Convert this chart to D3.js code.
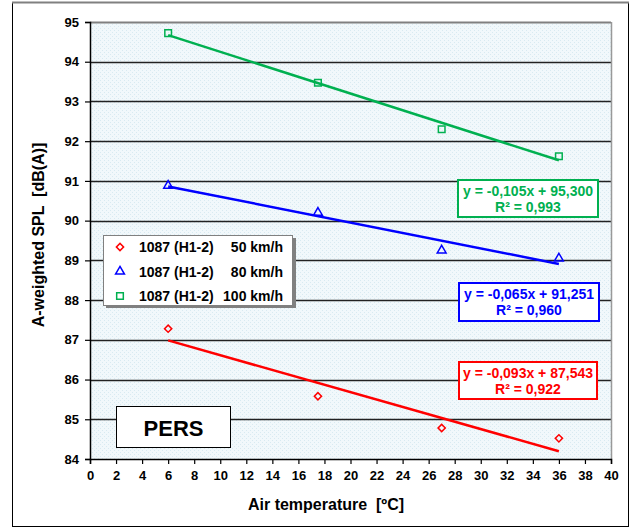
<!DOCTYPE html>
<html><head><meta charset="utf-8">
<script src="https://cdn.jsdelivr.net/npm/d3@7"></script>
<style>body{margin:0;background:#fff}svg{display:block;font-family:Arial,"Liberation Sans",sans-serif;font-weight:bold}</style>
</head><body><svg id="c" width="632" height="529"></svg>
<script>
const temps = [6, 17.5, 27, 36];
const spl50 = [87.28, 85.58, 84.78, 84.52];
const spl80 = [90.88, 90.20, 89.25, 89.05];
const spl100 = [94.72, 93.47, 92.30, 91.62];
const seriesNames = ["1087 (H1-2)", "1087 (H1-2)", "1087 (H1-2)"];
const speeds = ["50 km/h", "80 km/h", "100 km/h"];
const slopes = [-0.093, -0.065, -0.105];
const intercepts = [87.543, 91.251, 95.300];
const eqLabels = ["y = -0,093x + 87,543", "y = -0,065x + 91,251", "y = -0,105x + 95,300"];
const r2Labels = ["R² = 0,922", "R² = 0,960", "R² = 0,993"];
const xTicks = d3.range(0, 41, 2);
const yTicks = d3.range(84, 96, 1);

const colors = ["#ff0000", "#0000ff", "#00b050"];
const svg = d3.select("#c");
const L = 90, R = 611, T = 22, B = 459;
const x = d3.scaleLinear().domain([0, 40]).range([L, R]);
const y = d3.scaleLinear().domain([84, 95]).range([B, T]);

// outer frame
svg.append("rect").attr("x", 12.5).attr("y", 2.5).attr("width", 616).attr("height", 524)
  .attr("fill", "#fff").attr("stroke", "#000").attr("stroke-width", 1);
svg.append("line").attr("x1", 12).attr("x2", 629).attr("y1", 2.5).attr("y2", 2.5).attr("stroke", "#808080").attr("stroke-width", 2);

// plot bg pattern
const defs = svg.append("defs");
const pat = defs.append("pattern").attr("id", "dots").attr("width", 4).attr("height", 4).attr("patternUnits", "userSpaceOnUse");
pat.append("rect").attr("width", 4).attr("height", 4).attr("fill", "#f1f8fb");
pat.append("rect").attr("width", 1).attr("height", 1).attr("x", 0).attr("y", 0).attr("fill", "#d8eaf1");
pat.append("rect").attr("width", 1).attr("height", 1).attr("x", 2).attr("y", 2).attr("fill", "#d8eaf1");
svg.append("rect").attr("x", L).attr("y", T).attr("width", R - L).attr("height", B - T).attr("fill", "url(#dots)");

// gridlines
svg.append("g").selectAll("line").data(yTicks.filter(d => d > 84)).join("line")
  .attr("x1", L).attr("x2", R).attr("y1", d => Math.round(y(d)) + 0.5).attr("y2", d => Math.round(y(d)) + 0.5)
  .attr("stroke", (d) => d === 95 ? "#808080" : "#222").attr("stroke-width", d => d === 95 ? 2 : 1.3);
svg.append("line").attr("x1", R + 0.5).attr("x2", R + 0.5).attr("y1", T).attr("y2", B).attr("stroke", "#999").attr("stroke-width", 1.5);

// axes
const xAxis = svg.append("g").attr("transform", `translate(0,${B})`)
  .call(d3.axisBottom(x).tickValues(xTicks).tickSize(5).tickPadding(4).tickFormat(d3.format("d")));
const yAxis = svg.append("g").attr("transform", `translate(${L},0)`)
  .call(d3.axisLeft(y).tickValues(yTicks).tickSize(5).tickPadding(6).tickFormat(d3.format("d")));
[xAxis, yAxis].forEach(a => {
  a.select(".domain").attr("stroke", "#000").attr("stroke-width", 1.5);
  a.selectAll(".tick line").attr("stroke", "#000").attr("stroke-width", 1.2);
  a.selectAll("text").attr("font-size", 13).attr("font-weight", "bold").attr("fill", "#000")
    .attr("font-family", "Arial, 'Liberation Sans', sans-serif");
});
xAxis.selectAll("text").attr("dy", "0.95em");

// axis titles
svg.append("text").attr("x", 326).attr("y", 510).attr("text-anchor", "middle").attr("font-size", 16)
  .attr("xml:space", "preserve").style("white-space", "pre").text("Air temperature  [ºC]");
svg.append("text").attr("transform", "translate(44,235) rotate(-90)").attr("text-anchor", "middle").attr("font-size", 16)
  .attr("xml:space", "preserve").style("white-space", "pre").text("A-weighted SPL  [dB(A)]");

const allSeries = [spl50, spl80, spl100];
const xr = [6, 36];
// trend lines
allSeries.forEach((s, i) => {
  svg.append("line").attr("x1", x(xr[0])).attr("x2", x(xr[1]))
    .attr("y1", y(slopes[i] * xr[0] + intercepts[i])).attr("y2", y(slopes[i] * xr[1] + intercepts[i]))
    .attr("stroke", colors[i]).attr("stroke-width", 2.5);
});

function marker(g, i) {
  let p;
  if (i === 0) p = g.append("path").attr("d", d3.symbol().type(d3.symbolSquare).size(26)()).attr("transform", "rotate(45)");
  else if (i === 1) p = g.append("path").attr("d", d3.symbol().type(d3.symbolTriangle).size(34)());
  else p = g.append("path").attr("d", d3.symbol().type(d3.symbolSquare).size(44)());
  p.attr("fill", "none").attr("stroke", colors[i]).attr("stroke-width", 1.5);
}
allSeries.forEach((s, i) => {
  s.forEach((v, j) => {
    const g = svg.append("g").attr("transform", `translate(${x(temps[j])},${y(v)})`);
    marker(g, i);
  });
});

// legend
const lg = svg.append("g");
lg.append("rect").attr("x", 106).attr("y", 238).attr("width", 190).attr("height", 70).attr("fill", "#808080");
lg.append("rect").attr("x", 103.5).attr("y", 235.5).attr("width", 189).attr("height", 70).attr("fill", "#fff").attr("stroke", "#808080");
[0, 1, 2].forEach(i => {
  const yy = 247 + i * 24.5;
  const g = lg.append("g").attr("transform", `translate(120,${yy})`);
  marker(g, i);
  lg.append("text").attr("x", 139).attr("y", yy + 5).attr("font-size", 14).text(seriesNames[i]);
  lg.append("text").attr("x", 283).attr("y", yy + 5).attr("font-size", 14).attr("text-anchor", "end").text(speeds[i]);
});

// equation boxes
const boxes = [{x: 459, y: 362, w: 138, h: 37}, {x: 459, y: 283, w: 140, h: 38}, {x: 458, y: 180, w: 140, h: 37}];
boxes.forEach((b, i) => {
  svg.append("rect").attr("x", b.x).attr("y", b.y).attr("width", b.w).attr("height", b.h)
    .attr("fill", "#fff").attr("stroke", colors[i]).attr("stroke-width", 2);
  svg.append("text").attr("x", b.x + b.w / 2).attr("y", b.y + 16).attr("text-anchor", "middle")
    .attr("font-size", 14).attr("fill", colors[i]).text(eqLabels[i]);
  svg.append("text").attr("x", b.x + b.w / 2).attr("y", b.y + 32).attr("text-anchor", "middle")
    .attr("font-size", 14).attr("fill", colors[i]).text(r2Labels[i]);
});

// PERS box
svg.append("rect").attr("x", 116.5).attr("y", 406.5).attr("width", 114).attr("height", 41)
  .attr("fill", "#fff").attr("stroke", "#000").attr("stroke-width", 1);
svg.append("text").attr("x", 173.5).attr("y", 435.5).attr("text-anchor", "middle").attr("font-size", 22).text("PERS");
</script></body></html>
